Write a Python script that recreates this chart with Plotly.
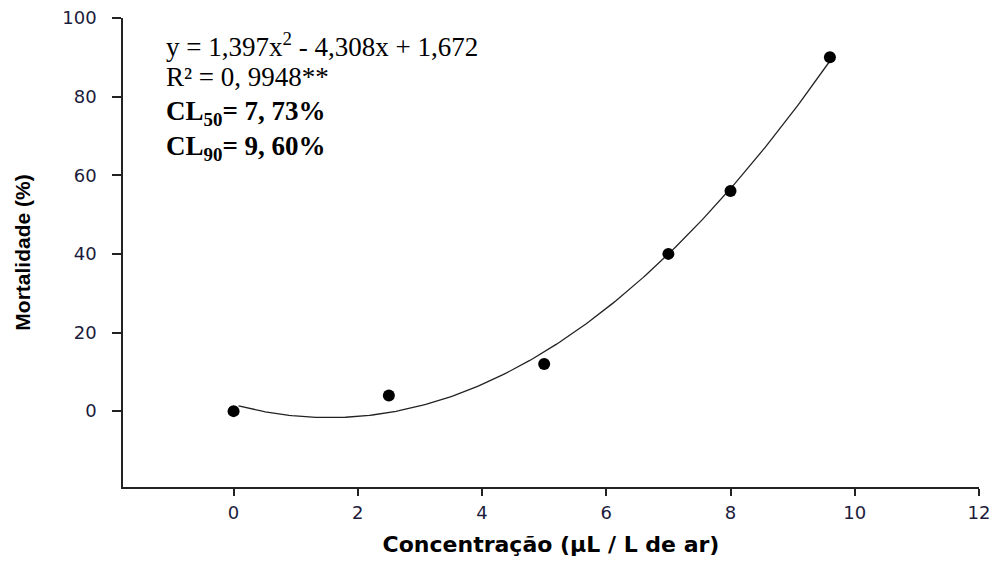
import numpy as np
import plotly.graph_objects as go

# Observed data
concentracao = [0, 2.5, 5, 7, 8, 9.6]
mortalidade = [0, 4, 12, 40, 56, 90]

# Regression coefficients (y = a x^2 + b x + c)
coef_a = 1.397
coef_b = -4.308
coef_c = 1.672
fit_x_start = 0.08
fit_x_end = 9.6

x_ticks = [0, 2, 4, 6, 8, 10, 12]
y_ticks = [0, 20, 40, 60, 80, 100]

xf = np.linspace(fit_x_start, fit_x_end, 200)
yf = coef_a * xf**2 + coef_b * xf + coef_c

fig = go.Figure()
fig.add_trace(go.Scatter(x=xf, y=yf, mode="lines",
                         line=dict(color="#222", width=1.3), showlegend=False))
fig.add_trace(go.Scatter(x=concentracao, y=mortalidade, mode="markers",
                         marker=dict(color="black", size=12), showlegend=False))

W, H = 993, 566
L, R, T, B = 123, 979, 18, 487

serif = "Liberation Serif, Times New Roman, serif"
lines = [
    "y = 1,397x<sup>2</sup> - 4,308x + 1,672",
    "R² = 0, 9948**",
    "<b>CL<sub>50</sub>= 7, 73%</b>",
    "<b>CL<sub>90</sub>= 9, 60%</b>",
]
ys = [45, 77, 113, 148]
for t, yp in zip(lines, ys):
    fig.add_annotation(text=t, xref="paper", yref="paper",
                       x=(164 - L) / (R - L), y=1 - (yp - T) / (B - T),
                       xanchor="left", yanchor="middle", showarrow=False,
                       font=dict(family=serif, size=27, color="black"))

axis_font = dict(family="DejaVu Sans, Verdana, sans-serif", size=18, color="#1c1c3c")

fig.update_layout(
    width=W, height=H,
    margin=dict(l=L, r=W - R, t=T, b=H - B),
    plot_bgcolor="white", paper_bgcolor="white",
    xaxis=dict(range=[-1.78, 12], tickvals=x_ticks, showgrid=False, zeroline=False,
               showline=True, linecolor="#222", linewidth=1.5, automargin=False,
               ticks="outside", ticklen=7, tickwidth=1.5, tickcolor="#222",
               tickfont=axis_font, ticklabelstandoff=2, ticklabeloverflow="allow",
               title=dict(text="<b>Concentração (µL / L de ar)</b>",
                          font=dict(family="DejaVu Sans, Verdana, sans-serif", size=22, color="black"),
                          standoff=14)),
    yaxis=dict(range=[-19.3, 100], tickvals=y_ticks, showgrid=False, zeroline=False,
               showline=True, linecolor="#222", linewidth=1.5, automargin=False,
               ticks="outside", ticklen=9, tickwidth=1.5, tickcolor="#222",
               tickfont=axis_font, ticklabelstandoff=12, ticklabeloverflow="allow",
               title=dict(text="<b>Mortalidade (%)</b>",
                          font=dict(family="Liberation Sans, Arial, sans-serif", size=21, color="black"),
                          standoff=26)),
)

# remove the default 8px page margin so the figure fills the window exactly
fig.write_html("out.html", config={"displayModeBar": False},
               post_script="document.body.style.margin='0px';document.body.style.overflow='hidden';")
